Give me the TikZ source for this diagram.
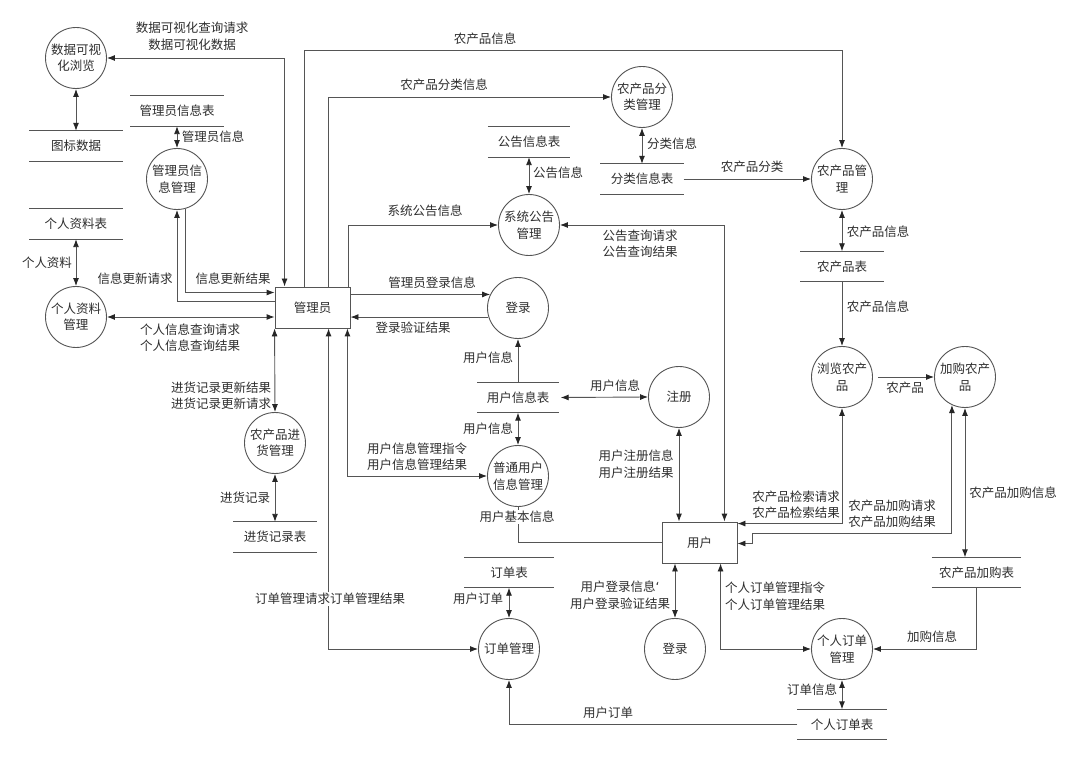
\documentclass[tikz,border=0pt]{standalone}
\usepackage{fontspec}
\setmainfont{Noto Sans CJK SC}
\newfontfamily\djf{DejaVu Sans}
\usetikzlibrary{arrows.meta,calc}
\definecolor{lc}{HTML}{555555}
\definecolor{tc}{HTML}{2E2E2E}
\newcommand\fs{\fontsize{12.5}{16.5}\selectfont}
\tikzset{
 tip/.tip={Latex[length=8pt,width=6pt,color=black!85]},
 proc/.style={circle,draw=lc,line width=0.9pt,minimum size=61pt,inner sep=0pt,align=center,font=\fs,text=tc},
 ent/.style={rectangle,draw=lc,line width=0.9pt,minimum width=75pt,minimum height=41pt,inner sep=0pt,font=\fs,text=tc},
 storet/.style={minimum height=30pt,inner sep=0pt,font=\fs,text=tc},
 sline/.style={draw=lc,line width=0.9pt},
 flow/.style={draw=lc,line width=0.9pt,-tip},
 dflow/.style={draw=lc,line width=0.9pt,tip-tip},
 plain/.style={draw=lc,line width=0.9pt},
 lab/.style={font=\fs,text=tc,inner sep=1pt,align=center},
}
\newcommand{\dstore}[4]{%
 \node[storet,minimum width=#3pt] (#1) at (#2) {#4};
 \draw[sline] (#1.north west) -- (#1.north east) (#1.south west) -- (#1.south east);}
\begin{document}
\begin{tikzpicture}[x=1pt,y=-1pt]
\fill[white] (0,0) rectangle (1080,759);
\useasboundingbox (0,0) rectangle (1080,759);
% processes
\node[proc] (p1) at (76,58) {数据可视\\化浏览};
\node[proc] (p2) at (177,179) {管理员信\\息管理};
\node[proc] (p3) at (76,317) {个人资料\\管理};
\node[proc] (p4) at (275,443) {农产品进\\货管理};
\node[proc] (p5) at (642,97) {农产品分\\类管理};
\node[proc] (p6) at (529,225) {系统公告\\管理};
\node[proc] (p7) at (842,179) {农产品管\\理};
\node[proc] (p8) at (518,308) {登录};
\node[proc] (p9) at (679,397) {注册};
\node[proc] (p10) at (518,476) {普通用户\\信息管理};
\node[proc] (p11) at (842,377) {浏览农产\\品};
\node[proc] (p12) at (965,377) {加购农产\\品};
\node[proc] (p13) at (509,649) {订单管理};
\node[proc] (p14) at (675,649) {登录};
\node[proc] (p15) at (842,649) {个人订单\\管理};
% entities
\node[ent] (admin) at (312.5,307.5) {管理员};
\node[ent] (user) at (699.5,542.5) {用户};
% stores
\dstore{s1}{76,146}{93}{图标数据}
\dstore{s2}{177,111}{93}{管理员信息表}
\dstore{s3}{76,224}{93}{个人资料表}
\dstore{s4}{529,142}{82}{公告信息表}
\dstore{s5}{642,179}{83}{分类信息表}
\dstore{s6}{842,266.5}{83}{农产品表}
\dstore{s7}{518,397.5}{81}{用户信息表}
\dstore{s8}{275,537}{83}{进货记录表}
\dstore{s9}{509,572.5}{89}{订单表}
\dstore{s10}{976.5,572.5}{89}{农产品加购表}
\dstore{s11}{842,724.5}{89}{个人订单表}
\coordinate (j1) at (752,533);
% connectors
\draw[dflow] (p1.east) -| ($(admin.north west)+(10,0)$);
\draw[dflow] (p1.south) -- (s1.north);
\draw[dflow] (s2.south) -- (p2.north);
\draw[flow] (p2.-75) |- ($(admin.west)+(0,-15)$);
\draw[flow] ($(admin.west)+(0,-6)$) -| (p2.south);
\draw[dflow] (s3.south) -- (p3.north);
\draw[dflow] (p3.east) -- (p3.east -| admin.west);
\draw[dflow] (admin.south west) -- (p4.north);
\draw[dflow] (p4.south) -- (s8.north);
\draw[dflow] ($(admin.south west)+(54,0)$) |- (p13.west);
\draw[flow] ($(admin.north west)+(54,0)$) |- (p5.west);
\draw[flow] ($(admin.north west)+(30,0)$) -- ++(0,-236) -| (p7.north);
\draw[flow] ($(admin.north east)+(-2,0)$) |- (p6.west);
\draw[dflow] (s4.south) -- (p6.north);
\draw[dflow] (p6.east) -| ($(user.north east)+(-13,0)$);
\draw[dflow] (p5.south) -- (s5.north);
\draw[flow] (s5.east) -- (p7.west);
\draw[dflow] (p7.south) -- (s6.north);
\draw[flow] (s6.south) -- (p11.north);
\draw[flow] ($(p11.east)+(5,0)$) -- (p12.west);
\draw[dflow] (p11.south) |- ($(user.north east)+(0,2)$);
\draw[dflow] (p12.-115) |- (j1) |- ($(user.east)+(0,1)$);
\draw[dflow] (p12.south) -- (p12.south |- s10.north);
\draw[flow] (s10.south) |- (p15.east);
\draw[dflow] ($(user.south west)+(59,0)$) |- (p15.west);
\draw[dflow] (p15.south) -- (s11.north);
\draw[flow] (s11.west) -| (p13.south);
\draw[dflow] (s9.south) -- (p13.north);
\draw[dflow] (p14.north |- user.south) -- (p14.north);
\draw[plain] (p10.south) |- (user.west);
\draw[flow] (s7.north) -- (p8.south);
\draw[dflow] ($(s7.east)+(2,0)$) -- (p9.west);
\draw[dflow] (s7.south) -- (p10.north);
\draw[dflow] ($(admin.south east)+(-3,0)$) |- (p10.west);
\draw[flow] (p8.154 -| admin.east) -- (p8.154);
\draw[flow] (p8.197) -- (p8.197 -| admin.east);
\draw[dflow] (p9.south) -- (p9.south |- user.north);
% labels
\node[lab] (l1) at (192,36.5) {数据可视化查询请求\\数据可视化数据};
\node[lab] (l2) at (213,137) {管理员信息};
\node[lab] (l3) at (135,279) {信息更新请求};
\node[lab] (l4) at (233,279) {信息更新结果};
\node[lab] (l5) at (47,263) {个人资料};
\node[lab] (l6) at (190,337.5) {个人信息查询请求\\个人信息查询结果};
\node[lab] (l7) at (221,395.5) {进货记录更新结果\\进货记录更新请求};
\node[lab] (l8) at (245,498) {进货记录};
\node[lab,fill=white] (l9) at (330,599) {订单管理请求订单管理结果};
\node[lab] (l10) at (444,85) {农产品分类信息};
\node[lab] (l11) at (485,39) {农产品信息};
\node[lab] (l12) at (425,211) {系统公告信息};
\node[lab] (l13) at (558,173) {公告信息};
\node[lab] (l14) at (640,244) {公告查询请求\\公告查询结果};
\node[lab] (l15) at (672,144) {分类信息};
\node[lab] (l16) at (752,167) {农产品分类};
\node[lab] (l17) at (878,232) {农产品信息};
\node[lab] (l18) at (878,307) {农产品信息};
\node[lab] (l19) at (905,388) {农产品};
\node[lab] (l20) at (796,504.5) {农产品检索请求\\农产品检索结果};
\node[lab] (l21) at (892,514) {农产品加购请求\\农产品加购结果};
\node[lab] (l22) at (1013,493) {农产品加购信息};
\node[lab] (l23) at (932,637) {加购信息};
\node[lab] (l24) at (775,596) {个人订单管理指令\\个人订单管理结果};
\node[lab] (l25) at (812,690) {订单信息};
\node[lab] (l26) at (608,713) {用户订单};
\node[lab] (l27) at (478,599) {用户订单};
\node[lab] (l28) at (620,595) {用户登录信息{\djf ‘}\\用户登录验证结果};
\node[lab,fill=white] (l29) at (517,517) {用户基本信息};
\node[lab] (l30) at (488,358) {用户信息};
\node[lab] (l31) at (615,386) {用户信息};
\node[lab] (l32) at (488,429) {用户信息};
\node[lab] (l33) at (417,456.5) {用户信息管理指令\\用户信息管理结果};
\node[lab] (l34) at (432,283) {管理员登录信息};
\node[lab] (l35) at (413,328) {登录验证结果};
\node[lab] (l36) at (636,464) {用户注册信息\\用户注册结果};
\end{tikzpicture}
\end{document}
